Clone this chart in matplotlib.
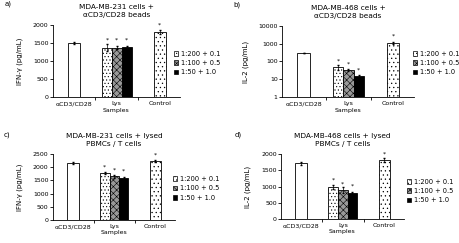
import numpy as np
import matplotlib
matplotlib.use("Agg")
import matplotlib.pyplot as plt
from matplotlib.patches import Patch

plt.rcParams['font.family'] = ['DejaVu Sans']
plt.rcParams['font.size'] = 4.5
plt.rcParams['hatch.linewidth'] = 0.4
plt.rcParams['axes.linewidth'] = 0.6

# --- data ---
groups = ["\u03b1CD3/CD28", "Lys", "Control"]
legend_labels = ["1:200 + 0.1", "1:100 + 0.5", "1:50 + 1.0"]

titles = ["MDA-MB-231 cells +\n\u03b1CD3/CD28 beads",
          "MDA-MB-468 cells +\n\u03b1CD3/CD28 beads",
          "MDA-MB-231 cells + lysed\nPBMCs / T cells",
          "MDA-MB-468 cells + lysed\nPBMCs / T cells"]
panel_tags = ["a)", "b)", "c)", "d)"]
ylabels = ["IFN-\u03b3 (pg/mL)", "IL-2 (pg/mL)", "IFN-\u03b3 (pg/mL)", "IL-2 (pg/mL)"]

pos_vals = [1500, 300, 2150, 1720]          # alphaCD3/CD28 bar
lys_vals = [[1370, 1370, 1380],
            [49, 33, 15],
            [1770, 1650, 1600],
            [985, 890, 800]]
ctrl_vals = [1800, 1100, 2230, 1815]
pos_err = [30, 0, 40, 50]
lys_err = [[90, 40, 40], [15, 4, 2], [40, 40, 40], [60, 80, 30]]
ctrl_err = [50, 150, 40, 60]

yticks = [[0, 500, 1000, 1500, 2000],
          [1, 10, 100, 1000, 10000],
          [0, 500, 1000, 1500, 2000, 2500],
          [0, 500, 1000, 1500, 2000]]
logscale = [False, True, False, False]

# axes boxes in figure fractions [left, bottom, width, height]
boxes = [[0.115, 0.601, 0.277, 0.296],
         [0.614, 0.601, 0.288, 0.292],
         [0.115, 0.095, 0.266, 0.271],
         [0.612, 0.099, 0.268, 0.267]]
leg_anchor = [(0.93, 0.47), (0.97, 0.48), (0.96, 0.48), (1.0, 0.43)]
tag_x = [-0.38, -0.37, -0.40, -0.38]

lys_style = [dict(facecolor='white', hatch='.....'),
             dict(facecolor='#999999', hatch='xxxxx'),
             dict(facecolor='black', hatch=None)]

fig = plt.figure(figsize=(4.59, 2.43), dpi=100)

for i in range(4):
    ax = fig.add_axes(boxes[i])
    w1 = 0.28
    w2 = 0.23
    ax.bar(0, pos_vals[i], width=w1, color='white', edgecolor='black', lw=0.6,
           yerr=pos_err[i], error_kw=dict(lw=0.5, capsize=1))
    for j in range(3):
        ax.bar(1 + (j - 1) * w2, lys_vals[i][j], width=w2, edgecolor='black',
               lw=0.6, yerr=lys_err[i][j], error_kw=dict(lw=0.5, capsize=1),
               **lys_style[j])
    ax.bar(2, ctrl_vals[i], width=w1, color='white', edgecolor='black', lw=0.6,
           hatch='....', yerr=ctrl_err[i], error_kw=dict(lw=0.5, capsize=1))

    if logscale[i]:
        ax.set_yscale('log')
        ax.set_ylim(1, 10000)
        ax.set_yticks(yticks[i])
        ax.set_yticklabels([str(t) for t in yticks[i]])
        star_y = [v * 2.2 for v in lys_vals[i]] + [ctrl_vals[i] * 2.5]
    else:
        ax.set_ylim(0, yticks[i][-1])
        ax.set_yticks(yticks[i])
        top = yticks[i][-1]
        star_y = [v + 0.1 * top for v in lys_vals[i]] + [ctrl_vals[i] + 0.1 * top]
    ax.minorticks_off()

    # significance marks
    star_x = [1 - w2, 1, 1 + w2, 2]
    for sx, sy in zip(star_x, star_y):
        ax.text(sx, sy, "*", ha='center', va='center', fontsize=4.5)

    ax.set_xlim(-0.49, 2.47)
    ax.set_xticks([0, 1, 2])
    ax.set_xticklabels(groups)
    ax.tick_params(axis='x', length=0, pad=3)
    ax.set_xticks([0.5, 1.5], minor=True)
    ax.tick_params(axis='x', which='minor', length=2, width=0.6)
    ax.tick_params(axis='y', length=2, width=0.6, pad=1)
    ax.set_xlabel("Samples", labelpad=1)
    ax.set_ylabel(ylabels[i], labelpad=7, fontsize=5)
    ax.spines['top'].set_visible(False)
    ax.spines['right'].set_visible(False)
    ax.set_title(titles[i], fontsize=5.3, pad=6, linespacing=1.3)
    ax.text(tag_x[i], 1.27, panel_tags[i], transform=ax.transAxes, fontsize=5)

    handles = [Patch(edgecolor='black', lw=0.5, **lys_style[j]) for j in range(3)]
    ax.legend(handles, legend_labels, loc='center left', bbox_to_anchor=leg_anchor[i],
              frameon=False, fontsize=4.8, handlelength=0.7, handleheight=0.7,
              handletextpad=0.4, labelspacing=0.5, borderaxespad=0)

fig.savefig("out.png", dpi=100)
